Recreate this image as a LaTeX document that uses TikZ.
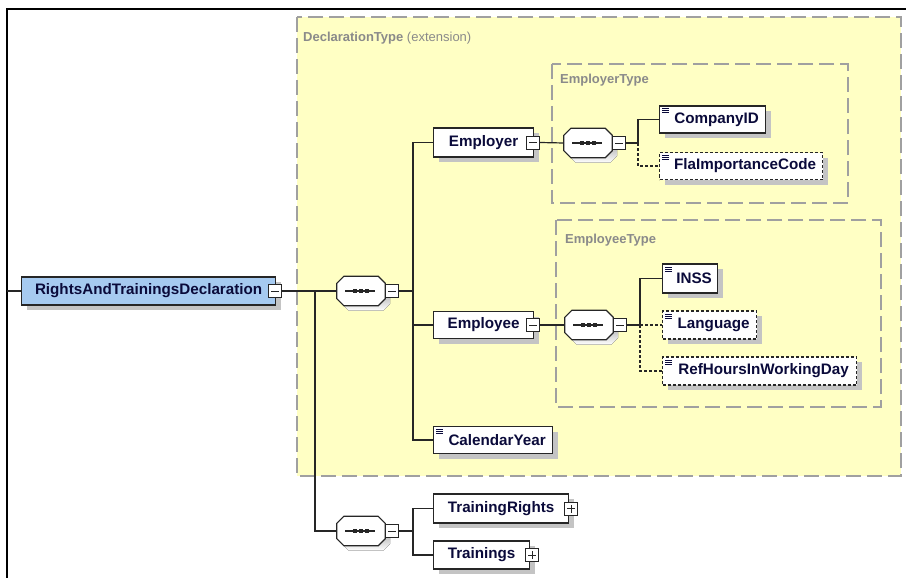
\documentclass[tikz,border=0pt]{standalone}
\usepackage{fontspec}
\setmainfont{Liberation Sans}
\usetikzlibrary{shadows,calc}
\definecolor{yel}{HTML}{FFFFC4}
\definecolor{dashgrey}{HTML}{A0A0A0}
\definecolor{navy}{HTML}{0A0A3A}
\definecolor{rootblue}{HTML}{A6CAF0}
\definecolor{shade}{HTML}{C4C4C4}
\definecolor{lbl}{HTML}{8A8A8A}
\definecolor{ink}{HTML}{262626}
\tikzset{
  elem/.style={draw=ink, line width=1.2pt, fill=white, minimum height=28pt, anchor=west,
    text=navy, font=\fontsize{15.2}{17}\selectfont\bfseries, inner sep=0pt,
    drop shadow={shadow xshift=5pt, shadow yshift=-5pt, fill=shade, opacity=1}},
  opt/.style={dash pattern=on 3pt off 2pt},
  typebox/.style={draw=dashgrey, line width=1.6pt, dash pattern=on 15pt off 6pt},
  declbox/.style={typebox, fill=yel},
  pmbox/.style={draw=ink, fill=white, line width=1pt, minimum size=13pt, inner sep=0pt},
  conn/.style={draw=ink, line width=1.2pt},
  optconn/.style={conn, dash pattern=on 3pt off 2pt},
  seqn/.style={minimum width=48pt, minimum height=29pt, inner sep=0pt, draw=none},
  typelbl/.style={anchor=west, text=lbl, font=\fontsize{13}{15}\selectfont, inner sep=0pt},
}
\newcommand\seqpath[3]{([shift={({7+#2},{#3})}]#1.north west) -- ([shift={({-7+#2},{#3})}]#1.north east) -- ([shift={({#2},{7+#3})}]#1.north east) -- ([shift={({#2},{-7+#3})}]#1.south east) -- ([shift={({-7+#2},{#3})}]#1.south east) -- ([shift={({7+#2},{#3})}]#1.south west) -- ([shift={({#2},{-7+#3})}]#1.south west) -- ([shift={({#2},{7+#3})}]#1.north west) -- cycle}
\newcommand\seqdraw[1]{%
  \fill[shade] \seqpath{#1}{5}{5};
  \draw[ink, line width=1.2pt, fill=white] \seqpath{#1}{0}{0};
  \draw[ink, line width=1.2pt] ([xshift=-16pt]#1.center) -- ([xshift=14pt]#1.center);
  \foreach \dx in {-6,0,6} {\fill[ink] ([shift={({\dx-1.7},-1.7)}]#1.center) rectangle ([shift={({\dx+1.7},1.7)}]#1.center);}
  \node[pmbox] (#1m) at ([xshift=7pt]#1.east) {};
  \draw[ink, line width=1pt] ([xshift=-4pt]#1m.center) -- ([xshift=4pt]#1m.center);
}
\newcommand\minusbox[2]{%
  \node[pmbox] (#2) at ([xshift=-1pt]#1.east) {};
  \draw[ink, line width=1pt] ([xshift=-4pt]#2.center) -- ([xshift=4pt]#2.center);
}
\newcommand\plusbox[2]{%
  \node[pmbox] (#2) at ([xshift=2pt]#1.east) {};
  \draw[ink, line width=1pt] ([xshift=-4pt]#2.center) -- ([xshift=4pt]#2.center);
  \draw[ink, line width=1pt] ([yshift=-4pt]#2.center) -- ([yshift=4pt]#2.center);
}
\newcommand\leaficon[1]{%
  \foreach \dy in {3.5,5.5,7.5} {\draw[navy, line width=0.8pt] ([shift={(3,\dy)}]#1.north west) -- ([shift={(9.5,\dy)}]#1.north west);}
}
\begin{document}
\begin{tikzpicture}[x=1pt,y=-1pt]
\useasboundingbox (0,0) rectangle (906,578);
\fill[white] (0,0) rectangle (906,578);
% frame
\draw[black, line width=2.2pt] (7,578) -- (7,9) -- (906,9);
% type boxes
\draw[declbox] (297,17) rectangle (901,476);
\node[typelbl] (decllbl) at (303,38) {\textbf{DeclarationType} (extension)};
\draw[typebox] (552,64) rectangle (848,203);
\node[typelbl] (emprlbl) at (560,80) {\textbf{EmployerType}};
\draw[typebox] (556,220) rectangle (881,407);
\node[typelbl] (empelbl) at (565,240) {\textbf{EmployeeType}};
% nodes
\node[elem, fill=rootblue, minimum width=254pt] (root) at (21,291) {RightsAndTrainingsDeclaration\hspace{6pt}};
\minusbox{root}{rootm}
\node[seqn] (s1) at (361,291) {};
\seqdraw{s1}
\node[seqn] (s2) at (361,531) {};
\seqdraw{s2}
\node[elem, minimum width=100pt, minimum height=29pt] (employer) at (433,142.5) {Employer\hspace{8pt}};
\minusbox{employer}{employerm}
\node[elem, minimum width=100pt, minimum height=27pt] (employee) at (433,325) {Employee\hspace{8pt}};
\minusbox{employee}{employeem}
\node[elem, minimum width=119pt, minimum height=27pt] (calyear) at (433,440) {\hspace{8pt}CalendarYear};
\leaficon{calyear}
\node[elem, minimum width=135pt, minimum height=29pt] (trights) at (433,508.5) {TrainingRights\hspace{8pt}};
\plusbox{trights}{trightsp}
\node[elem, minimum width=96pt, minimum height=28pt] (trainings) at (433,555) {Trainings\hspace{8pt}};
\plusbox{trainings}{trainingsp}
\node[seqn] (s3) at (588,143) {};
\seqdraw{s3}
\node[seqn] (s4) at (589,325) {};
\seqdraw{s4}
\node[elem, minimum width=106pt, minimum height=27pt] (company) at (659,119.5) {\hspace{8pt}CompanyID};
\leaficon{company}
\node[elem, opt, minimum width=163pt, minimum height=27pt] (fla) at (659,166) {\hspace{8pt}FlaImportanceCode};
\leaficon{fla}
\node[elem, minimum width=55pt, minimum height=29pt] (inss) at (662,278.5) {\hspace{8pt}INSS};
\leaficon{inss}
\node[elem, opt, minimum width=94pt, minimum height=28pt] (lang) at (662,325) {\hspace{8pt}Language};
\leaficon{lang}
\node[elem, opt, minimum width=194pt, minimum height=28pt] (refh) at (662,371) {\hspace{8pt}RefHoursInWorkingDay};
\leaficon{refh}
% junctions
\coordinate (fl) at (7,291);
\coordinate (j0) at (315,291);
\coordinate (j1) at (413,291);
\coordinate (j2) at (413,531);
\coordinate (j3) at (638,143);
\coordinate (j4) at (640,325);
% connectors
\draw[conn] (fl) -- (root.west);
\draw[conn] (rootm.east) -- (s1.west);
\draw[conn] (j0) |- (s2.west);
\draw[conn] (s1m.east) -- (j1);
\draw[conn] (employer.west) -| (j1);
\draw[conn] (j1) |- (calyear.west);
\draw[conn] (j1) |- (employee.west);
\draw[conn] (employerm.east) -- (s3.west);
\draw[conn] (s3m.east) -- (j3);
\draw[conn] (j3) |- (company.west);
\draw[optconn] (j3) |- (fla.west);
\draw[conn] (employeem.east) -- (s4.west);
\draw[conn] (s4m.east) -- (j4);
\draw[conn] (j4) |- (inss.west);
\draw[optconn] (j4) -- (lang.west);
\draw[optconn] (j4) |- (refh.west);
\draw[conn] (s2m.east) -- (j2);
\draw[conn] (j2) |- (trights.west);
\draw[conn] (j2) |- (trainings.west);
\end{tikzpicture}
\end{document}
